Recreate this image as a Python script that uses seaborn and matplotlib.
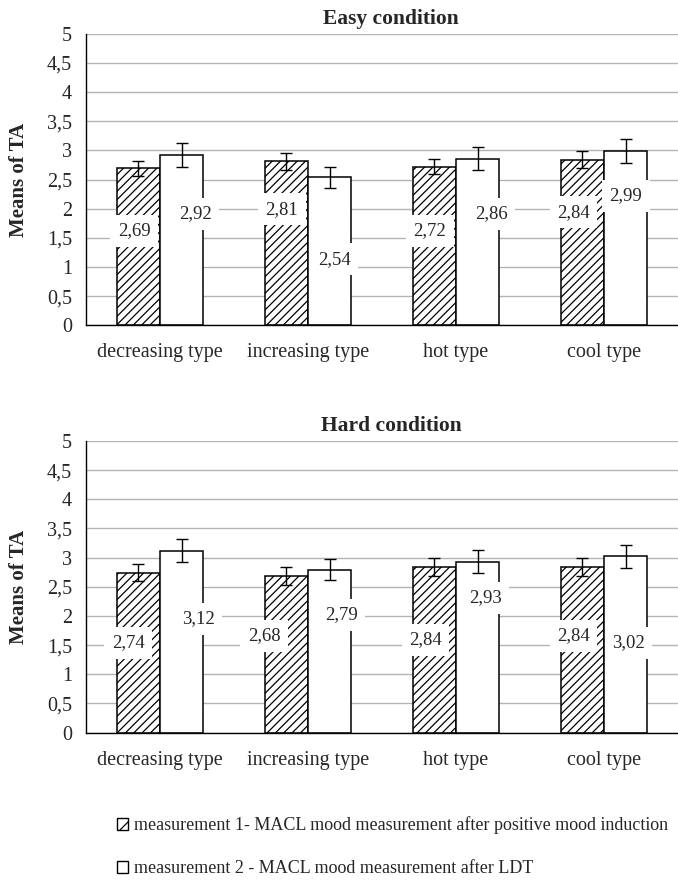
import pandas as pd
import matplotlib.pyplot as plt
import matplotlib.patches as mpatches
from matplotlib.ticker import FuncFormatter, MultipleLocator
import seaborn as sns

# ==========================================================
# 1. DADOS
# ==========================================================
tipos = ["decreasing type", "increasing type", "hot type", "cool type"]
medidas = [
    "measurement 1- MACL mood measurement after positive mood induction",
    "measurement 2 - MACL mood measurement after LDT",
]
condicoes = ["Easy condition", "Hard condition"]

# medias por condicao: [medida 1], [medida 2]
easy_m1 = [2.69, 2.81, 2.72, 2.84]
easy_m2 = [2.92, 2.54, 2.86, 2.99]
hard_m1 = [2.74, 2.68, 2.84, 2.84]
hard_m2 = [3.12, 2.79, 2.93, 3.02]

easy_e1 = [0.13, 0.15, 0.13, 0.15]
easy_e2 = [0.20, 0.18, 0.20, 0.20]
hard_e1 = [0.15, 0.15, 0.15, 0.15]
hard_e2 = [0.20, 0.18, 0.20, 0.20]

# posicao dos rotulos (altura em unidades do eixo, deslocamento em x)
easy_lab_y = [[1.62, 1.99, 1.62, 1.94], [1.91, 1.13, 1.91, 2.22]]
hard_lab_y = [[1.54, 1.66, 1.59, 1.66], [1.95, 2.02, 2.31, 1.54]]
easy_lab_dx = [[-0.03, -0.03, -0.03, -0.06], [0.09, 0.03, 0.09, 0.0]]
hard_lab_dx = [[-0.07, -0.15, -0.06, -0.06], [0.11, 0.08, 0.05, 0.02]]

# ==========================================================
# 2. CONFIGURACOES VISUAIS
# ==========================================================
sns.set_theme(style="whitegrid")
plt.rcParams["font.family"] = ["Liberation Serif", "DejaVu Serif"]
plt.rcParams["hatch.linewidth"] = 0.9
plt.rcParams["hatch.color"] = "#2a2a2a"

HATCH = "////"


def monta_df(m1, m2):
    return pd.DataFrame({
        "tipo": tipos * 2,
        "medida": [medidas[0]] * 4 + [medidas[1]] * 4,
        "media": m1 + m2,
    })


def desenha(ax, titulo, m1, m2, e1, e2, lab_y, lab_dx):
    df = monta_df(m1, m2)
    sns.barplot(data=df, x="tipo", y="media", hue="medida",
                palette=["white", "white"], edgecolor="black", linewidth=1.1,
                width=0.585, errorbar=None, legend=False, ax=ax, zorder=3)
    erros = [e1, e2]
    valores = [m1, m2]
    barras = list(ax.containers)[:2]
    for h, cont in enumerate(barras):
        for i, barra in enumerate(cont):
            if h == 0:
                barra.set_hatch(HATCH)
            xc = barra.get_x() + barra.get_width() / 2
            ax.errorbar(xc, barra.get_height(), yerr=erros[h][i], fmt="none",
                        ecolor="black", elinewidth=1, capsize=4, capthick=1, zorder=4)
            ax.text(xc + lab_dx[h][i], lab_y[h][i], f"{valores[h][i]:.2f}".replace(".", ","),
                    ha="center", va="center", fontsize=13.5, zorder=5,
                    bbox=dict(boxstyle="square,pad=0.4", facecolor="white", edgecolor="none"))

    ax.set_ylim(0, 5)
    ax.set_xlim(-0.5, 3.5)
    ax.yaxis.set_major_locator(MultipleLocator(0.5))
    ax.yaxis.set_major_formatter(FuncFormatter(lambda v, p: f"{v:g}".replace(".", ",")))
    ax.grid(axis="y", color="#b4b4b4", linewidth=1)
    ax.grid(axis="x", visible=False)
    ax.set_axisbelow(True)
    for lado in ["top", "right"]:
        ax.spines[lado].set_visible(False)
    for lado in ["left", "bottom"]:
        ax.spines[lado].set_color("black")
        ax.spines[lado].set_linewidth(1)
        ax.spines[lado].set_zorder(6)
    ax.tick_params(axis="y", length=0, pad=10, labelsize=14.5)
    ax.tick_params(axis="x", length=0, pad=13, labelsize=14.5)
    ax.set_xlabel("")
    ax.set_ylabel("Means of TA", fontsize=15, fontweight="bold", labelpad=13)
    ax.set_title(titulo, fontsize=15.5, fontweight="bold", pad=7, x=0.515)
    ax.set_facecolor("white")


# ==========================================================
# 3. FIGURA
# ==========================================================
fig = plt.figure(figsize=(6.78, 8.89), dpi=100)
fig.patch.set_facecolor("white")
ax1 = fig.add_axes([0.127, 0.634, 0.873, 0.328])
ax2 = fig.add_axes([0.127, 0.176, 0.873, 0.328])

desenha(ax1, condicoes[0], easy_m1, easy_m2, easy_e1, easy_e2, easy_lab_y, easy_lab_dx)
desenha(ax2, condicoes[1], hard_m1, hard_m2, hard_e1, hard_e2, hard_lab_y, hard_lab_dx)

handles = [
    mpatches.Patch(facecolor="white", edgecolor="black", hatch="//", linewidth=1),
    mpatches.Patch(facecolor="white", edgecolor="black", linewidth=1),
]
fig.legend(handles, medidas, loc="center left", bbox_to_anchor=(0.172, 0.0475),
           frameon=False, fontsize=13, handlelength=0.65, handleheight=0.65,
           handletextpad=0.3, labelspacing=1.45, borderpad=0, borderaxespad=0)

fig.savefig("out.png", dpi=100)
plt.close(fig)
